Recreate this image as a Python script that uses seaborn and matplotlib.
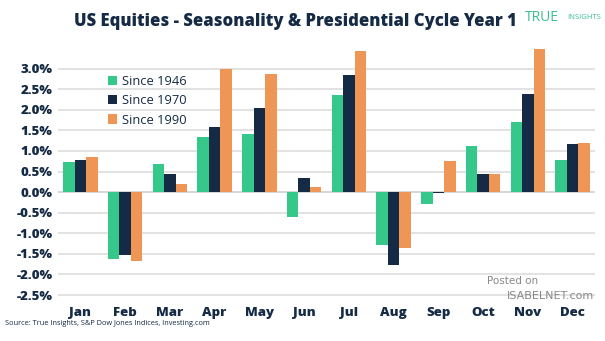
import matplotlib
matplotlib.use("Agg")
import matplotlib.pyplot as plt
import seaborn as sns
import pandas as pd
import numpy as np

months = ["Jan", "Feb", "Mar", "Apr", "May", "Jun", "Jul", "Aug", "Sep", "Oct", "Nov", "Dec"]
since_1946 = [0.73, -1.63, 0.68, 1.33, 1.40, -0.61, 2.37, -1.28, -0.29, 1.12, 1.71, 0.77]
since_1970 = [0.77, -1.53, 0.43, 1.59, 2.04, 0.34, 2.85, -1.76, -0.03, 0.45, 2.38, 1.16]
since_1990 = [0.86, -1.68, 0.20, 3.00, 2.88, 0.13, 3.43, -1.35, 0.76, 0.45, 3.48, 1.20]
series_names = ["Since 1946", "Since 1970", "Since 1990"]
colors = ["#36C78A", "#152A45", "#EF9556"]
yticks = [3.0, 2.5, 2.0, 1.5, 1.0, 0.5, 0.0, -0.5, -1.0, -1.5, -2.0, -2.5]

df = pd.DataFrame({
    "Month": months * 3,
    "Value": since_1946 + since_1970 + since_1990,
    "Series": [series_names[0]] * 12 + [series_names[1]] * 12 + [series_names[2]] * 12,
})

sns.set_theme(style="white")
plt.rcParams["font.family"] = ["Open Sans", "DejaVu Sans"]
navy = "#152A45"

fig = plt.figure(figsize=(6.05, 3.41), dpi=100)
ax = fig.add_axes([58 / 605, 1 - 300 / 341, (595 - 58) / 605, (300 - 48) / 341])

sns.barplot(data=df, x="Month", y="Value", hue="Series", palette=colors,
            width=0.77, ax=ax, saturation=1, legend=True)
for p in ax.patches:
    p.set_linewidth(0)

ax.set_ylim(-2.62, 3.5)
ax.set_xlim(-0.5, 11.5)
ax.set_yticks(yticks)
ax.set_yticklabels([f"{t:.1f}%" for t in yticks], fontweight=800)
ax.set_xticks(range(len(months)))
ax.set_xticklabels(months, fontweight=800)
ax.yaxis.grid(True, color="#DDDDDD", linewidth=1.2)
ax.set_axisbelow(True)
ax.axhline(0, color="#AAB0B8", linewidth=1.2, zorder=0.5)
for s in ax.spines.values():
    s.set_visible(False)
ax.set_xlabel("")
ax.set_ylabel("")
ax.tick_params(axis="both", length=0, labelsize=9.5, labelcolor=navy, pad=4)
ax.tick_params(axis="x", pad=5)

leg = ax.legend(loc="upper left", bbox_to_anchor=(0.084, 0.915), frameon=False,
                fontsize=9.3, handlelength=0.7, handleheight=0.7, handletextpad=0.4,
                labelspacing=0.5, borderaxespad=0)
for t in leg.get_texts():
    t.set_color(navy)

fig.text(0.489, 0.937, "US Equities - Seasonality & Presidential Cycle Year 1",
         ha="center", va="center", fontsize=12, fontweight=800, color=navy)
fig.text(0.868, 0.95, "TRUE", ha="left", va="center", fontsize=10, color="#3DBF8F")
fig.text(0.938, 0.95, "INSIGHTS", ha="left", va="center", fontsize=5.5, color="#3DBF8F")
fig.text(0.008, 0.05, "Source: True Insights, S&P Dow Jones Indices, Investing.com",
         ha="left", va="center", fontsize=5.3, color=navy)
fig.text(0.805, 0.176, "Posted on", ha="left", va="center", fontsize=7.5,
         color="#888888", family="DejaVu Sans")
fig.text(0.838, 0.131, "ISABELNET.com", ha="left", va="center", fontsize=8,
         color="#888888", family="DejaVu Sans")

fig.savefig("out.png", dpi=100)
